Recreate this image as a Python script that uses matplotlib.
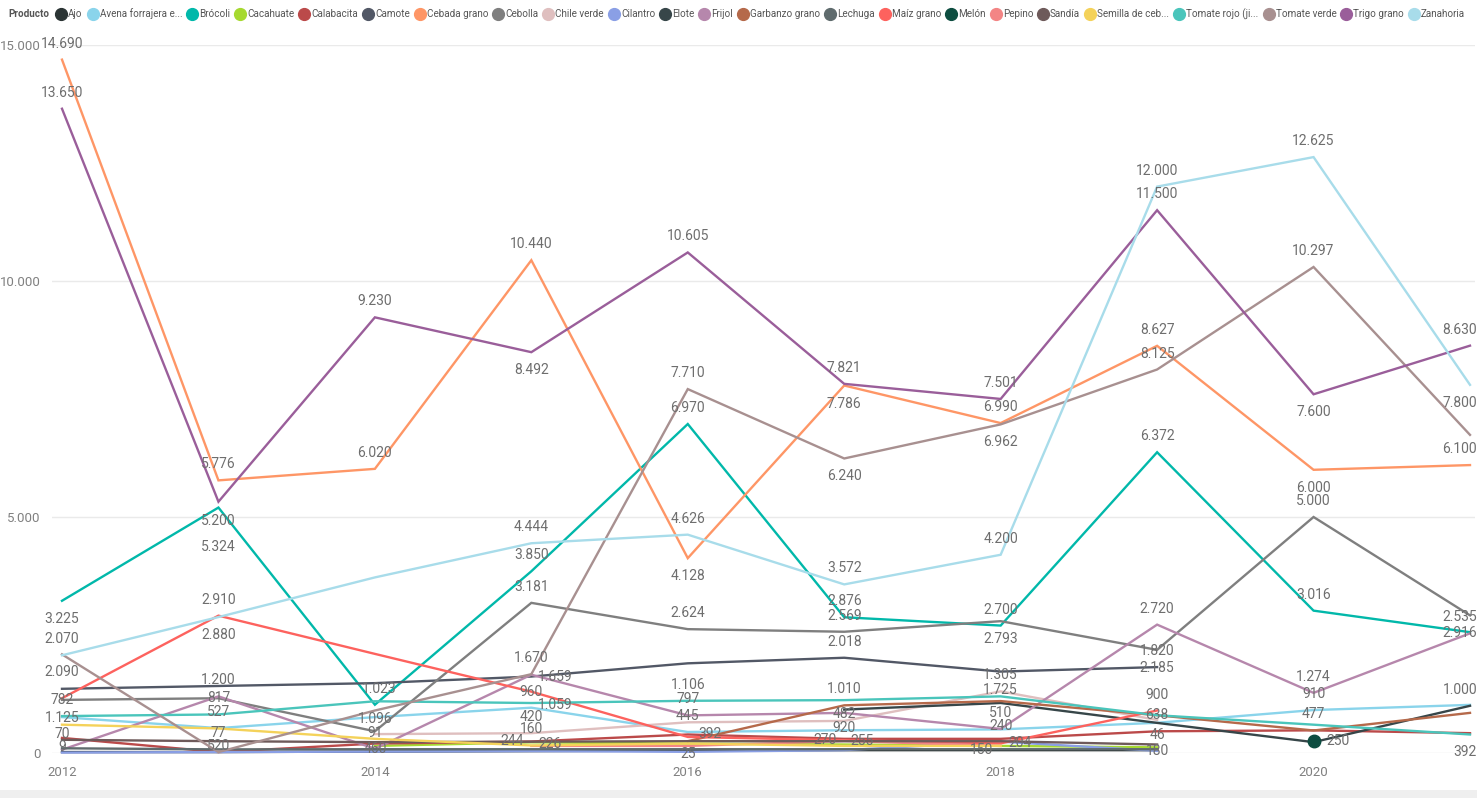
import numpy as np
import matplotlib.pyplot as plt
from matplotlib import font_manager
from matplotlib.lines import Line2D
from matplotlib.patches import Rectangle

nan = np.nan

# ----------------------------------------------------------------- data
years = [2012, 2013, 2014, 2015, 2016, 2017, 2018, 2019, 2020, 2021]

ajo          = [20, 20, 30, 40, 50, 60, 60, 60, nan, nan]
avena        = [760, 527, 760, 960, 445, 482, 500, 640, 910, 1020]
brocoli      = [3225, 5200, 1023, 3850, 6970, 2876, 2700, 6372, 3016, 2560]
cacahuate    = [nan, nan, 150, 226, 200, 180, 150, 120, nan, nan]
calabacita   = [320, 20, 200, 244, 392, 300, 300, 460, 480, 420]
camote       = [1360, 1420, 1480, 1620, 1900, 2018, 1725, 1820, nan, nan]
cebada       = [14690, 5776, 6020, 10440, 4128, 7786, 6990, 8627, 6000, 6100]
cebolla      = [1125, 1160, 460, 3181, 2624, 2569, 2793, 2185, 5000, 2916]
chile_verde  = [nan, nan, 400, 420, 650, 680, 1305, 700, nan, nan]
cilantro     = [9, 20, 30, 40, 25, 60, 240, 46, nan, nan]
elote        = [nan, nan, nan, nan, nan, 920, 1060, 638, 230, 1000]
frijol       = [70, 1200, 91, 1659, 797, 850, 510, 2720, 1274, 2535]
garbanzo     = [nan, nan, nan, nan, 250, 1010, 1100, 800, 477, 850]
lechuga      = [100, 77, 80, 80, 80, 80, 80, 80, nan, nan]
maiz         = [1160, 2910, 2100, 1300, 340, 270, 204, 900, nan, nan]
melon        = [nan, nan, nan, nan, nan, nan, nan, nan, 250, nan]
pepino       = [nan, nan, nan, 150, 150, 255, 150, nan, nan, nan]
sandia       = [280, 250, 230, 240, 250, 250, 250, 180, nan, nan]
semilla      = [600, 520, 300, 160, 200, 150, 150, nan, nan, nan]
tomate_rojo  = [782, 817, 1096, 1059, 1106, 1120, 1200, 800, 600, 392]
tomate_verde = [2090, 20, 900, 1670, 7710, 6240, 6962, 8125, 10297, 6740]
trigo        = [13650, 5324, 9230, 8492, 10605, 7821, 7501, 11500, 7600, 8630]
zanahoria    = [2070, 2880, 3720, 4444, 4626, 3572, 4200, 12000, 12625, 7800]

productos = ['Ajo', 'Avena forrajera e...', 'Brócoli', 'Cacahuate', 'Calabacita',
             'Camote', 'Cebada grano', 'Cebolla', 'Chile verde', 'Cilantro',
             'Elote', 'Frijol', 'Garbanzo grano', 'Lechuga', 'Maíz grano',
             'Melón', 'Pepino', 'Sandía', 'Semilla de ceb...', 'Tomate rojo (ji...',
             'Tomate verde', 'Trigo grano', 'Zanahoria']
valores = [ajo, avena, brocoli, cacahuate, calabacita, camote, cebada, cebolla,
           chile_verde, cilantro, elote, frijol, garbanzo, lechuga, maiz, melon,
           pepino, sandia, semilla, tomate_rojo, tomate_verde, trigo, zanahoria]
colores = ['#2B3434', '#8AD4EB', '#01B8AA', '#A6D930', '#BB4A4A', '#525866',
           '#FE9666', '#7F7F7F', '#DFBFBF', '#8A9FE5', '#374649', '#B687AC',
           '#B5694A', '#5F6B6D', '#FD625E', '#0D4D40', '#F38585', '#6E5A5A',
           '#F4D25A', '#4AC5BB', '#A89090', '#9A5E9A', '#A8DCEA']

# data label placement: (series index, year) -> (dx, dy) in pixels
A, B = (0, 16), (0, -18)
etiquetas = {
    (21, 2012): A, (21, 2013): (0, -45), (21, 2014): A, (21, 2015): B,
    (21, 2016): A, (21, 2017): A, (21, 2018): A, (21, 2019): A,
    (21, 2020): B, (21, 2021): A,
    (6, 2012): A, (6, 2013): A, (6, 2014): A, (6, 2015): A, (6, 2016): B,
    (6, 2017): B, (6, 2018): A, (6, 2019): A, (6, 2020): B, (6, 2021): A,
    (22, 2012): A, (22, 2013): B, (22, 2015): A, (22, 2016): A, (22, 2017): A,
    (22, 2018): A, (22, 2019): A, (22, 2020): A, (22, 2021): B,
    (20, 2012): B, (20, 2015): A, (20, 2016): A, (20, 2017): B, (20, 2018): B,
    (20, 2019): A, (20, 2020): A,
    (2, 2012): B, (2, 2013): (0, -13), (2, 2014): (4, 16), (2, 2015): A,
    (2, 2016): A, (2, 2017): A, (2, 2018): A, (2, 2019): A, (2, 2020): A,
    (7, 2012): B, (7, 2014): B, (7, 2015): A, (7, 2016): A, (7, 2017): A,
    (7, 2018): B, (7, 2019): B, (7, 2020): A, (7, 2021): B,
    (5, 2017): A, (5, 2018): B, (5, 2019): A,
    (14, 2013): A, (14, 2017): (-19, 0), (14, 2018): (19, 0), (14, 2019): A,
    (11, 2012): A, (11, 2013): A, (11, 2014): A, (11, 2015): (24, -2),
    (11, 2016): A, (11, 2018): A, (11, 2019): A, (11, 2020): A, (11, 2021): A,
    (19, 2012): A, (19, 2013): A, (19, 2014): B, (19, 2015): (24, -2),
    (19, 2016): A, (19, 2021): B,
    (1, 2013): A, (1, 2015): A, (1, 2016): A, (1, 2017): A, (1, 2020): A,
    (8, 2015): A, (8, 2018): A,
    (18, 2013): B, (18, 2015): A,
    (13, 2013): A,
    (4, 2015): (-19, 0), (4, 2016): (22, 0),
    (3, 2015): (19, -2), (3, 2018): (-19, -4),
    (9, 2012): (0, 6), (9, 2016): (0, -2), (9, 2018): A, (9, 2019): A,
    (16, 2017): (18, 0),
    (10, 2017): B, (10, 2019): (0, 8), (10, 2021): A,
    (15, 2020): (24, 0),
    (12, 2017): A, (12, 2020): A,
    (17, 2019): (0, -6),
}

# narrow face for labels and legend when it is installed
instaladas = {f.name for f in font_manager.fontManager.ttflist}
estrecha = 'Liberation Sans Narrow' if 'Liberation Sans Narrow' in instaladas else 'Roboto'

# ----------------------------------------------------------------- figure
W, H = 1477, 798
fig = plt.figure(figsize=(W / 100, H / 100), dpi=100)
fig.patch.set_facecolor('white')

ax = fig.add_axes([52 / W, (H - 753) / H, 1423 / W, 708 / H])
ax.set_xlim(2012 - 10 / 156.5, 2021 + 5 / 156.5)
ax.set_ylim(0, 15000)

for s in ax.spines.values():
    s.set_visible(False)
ax.set_yticks([0, 5000, 10000, 15000])
ax.set_yticklabels(['0', '5.000', '10.000', '15.000'])
ax.set_xticks([2012, 2014, 2016, 2018, 2020])
ax.tick_params(length=0, labelsize=9.5, labelcolor='#808080')
ax.tick_params(axis='y', pad=8)
ax.tick_params(axis='x', pad=9)
for lab in ax.get_xticklabels() + ax.get_yticklabels():
    lab.set_family([estrecha, 'DejaVu Sans'])
ax.grid(axis='y', color='#EAEAEA', lw=1)
ax.set_axisbelow(True)

etiqueta_font = dict(family=[estrecha, 'DejaVu Sans'], fontsize=10,
                     color='#6E6E6E')

for i, (vals, c) in enumerate(zip(valores, colores)):
    v = np.array(vals, dtype=float)
    ax.plot(years, v, color=c, lw=1.7, solid_joinstyle='miter', clip_on=False)
    # points with no neighbours get a dot so they stay visible
    for k in range(len(v)):
        if np.isnan(v[k]):
            continue
        left = k == 0 or np.isnan(v[k - 1])
        right = k == len(v) - 1 or np.isnan(v[k + 1])
        if left and right:
            ax.plot(years[k], v[k], 'o', color=c, ms=9, clip_on=False)

for (i, yr), (dx, dy) in etiquetas.items():
    v = valores[i][years.index(yr)]
    txt = f'{v:,.0f}'.replace(',', '.')
    ha = 'center'
    if yr == years[-1]:
        # last column is pushed inside the figure edge
        ha, dx = 'right', dx + 7
    ax.annotate(txt, (yr, v), xytext=(dx, dy), textcoords='offset pixels',
                ha=ha, va='center', **etiqueta_font)

# bottom strip
fig.add_artist(Rectangle((0, 0), 1, 8 / H, transform=fig.transFigure,
                         color='#EFEFEF', lw=0))

# ----------------------------------------------------------------- legend
fig.canvas.draw()
r = fig.canvas.get_renderer()
ly = 1 - 14 / H
leg_font = dict(family=[estrecha, 'DejaVu Sans'], color='#555555',
                va='center', ha='left')
size0 = 9.0
head = fig.text(8 / W, ly, 'Producto', fontweight='bold', fontsize=size0, **leg_font)
textos = [fig.text(0, ly, p, fontsize=size0, **leg_font) for p in productos]
marca, sep_in, sep = 10, 2, 5
n = len(productos)
fijo = 7 + n * (marca + sep_in) + (n - 1) * sep
medido = head.get_window_extent(r).width + sum(t.get_window_extent(r).width for t in textos)
escala = (1466 - 8 - fijo) / medido
for t in [head] + textos:
    t.set_fontsize(size0 * escala)
fig.canvas.draw()
x = 8 + head.get_window_extent(r).width + 7
for t, c in zip(textos, colores):
    fig.add_artist(Line2D([(x + marca / 2) / W], [ly], marker='o', ms=8.5,
                          color=c, transform=fig.transFigure))
    x += marca + sep_in
    t.set_x(x / W)
    x += t.get_window_extent(r).width + sep

fig.savefig('out.png', dpi=100)
